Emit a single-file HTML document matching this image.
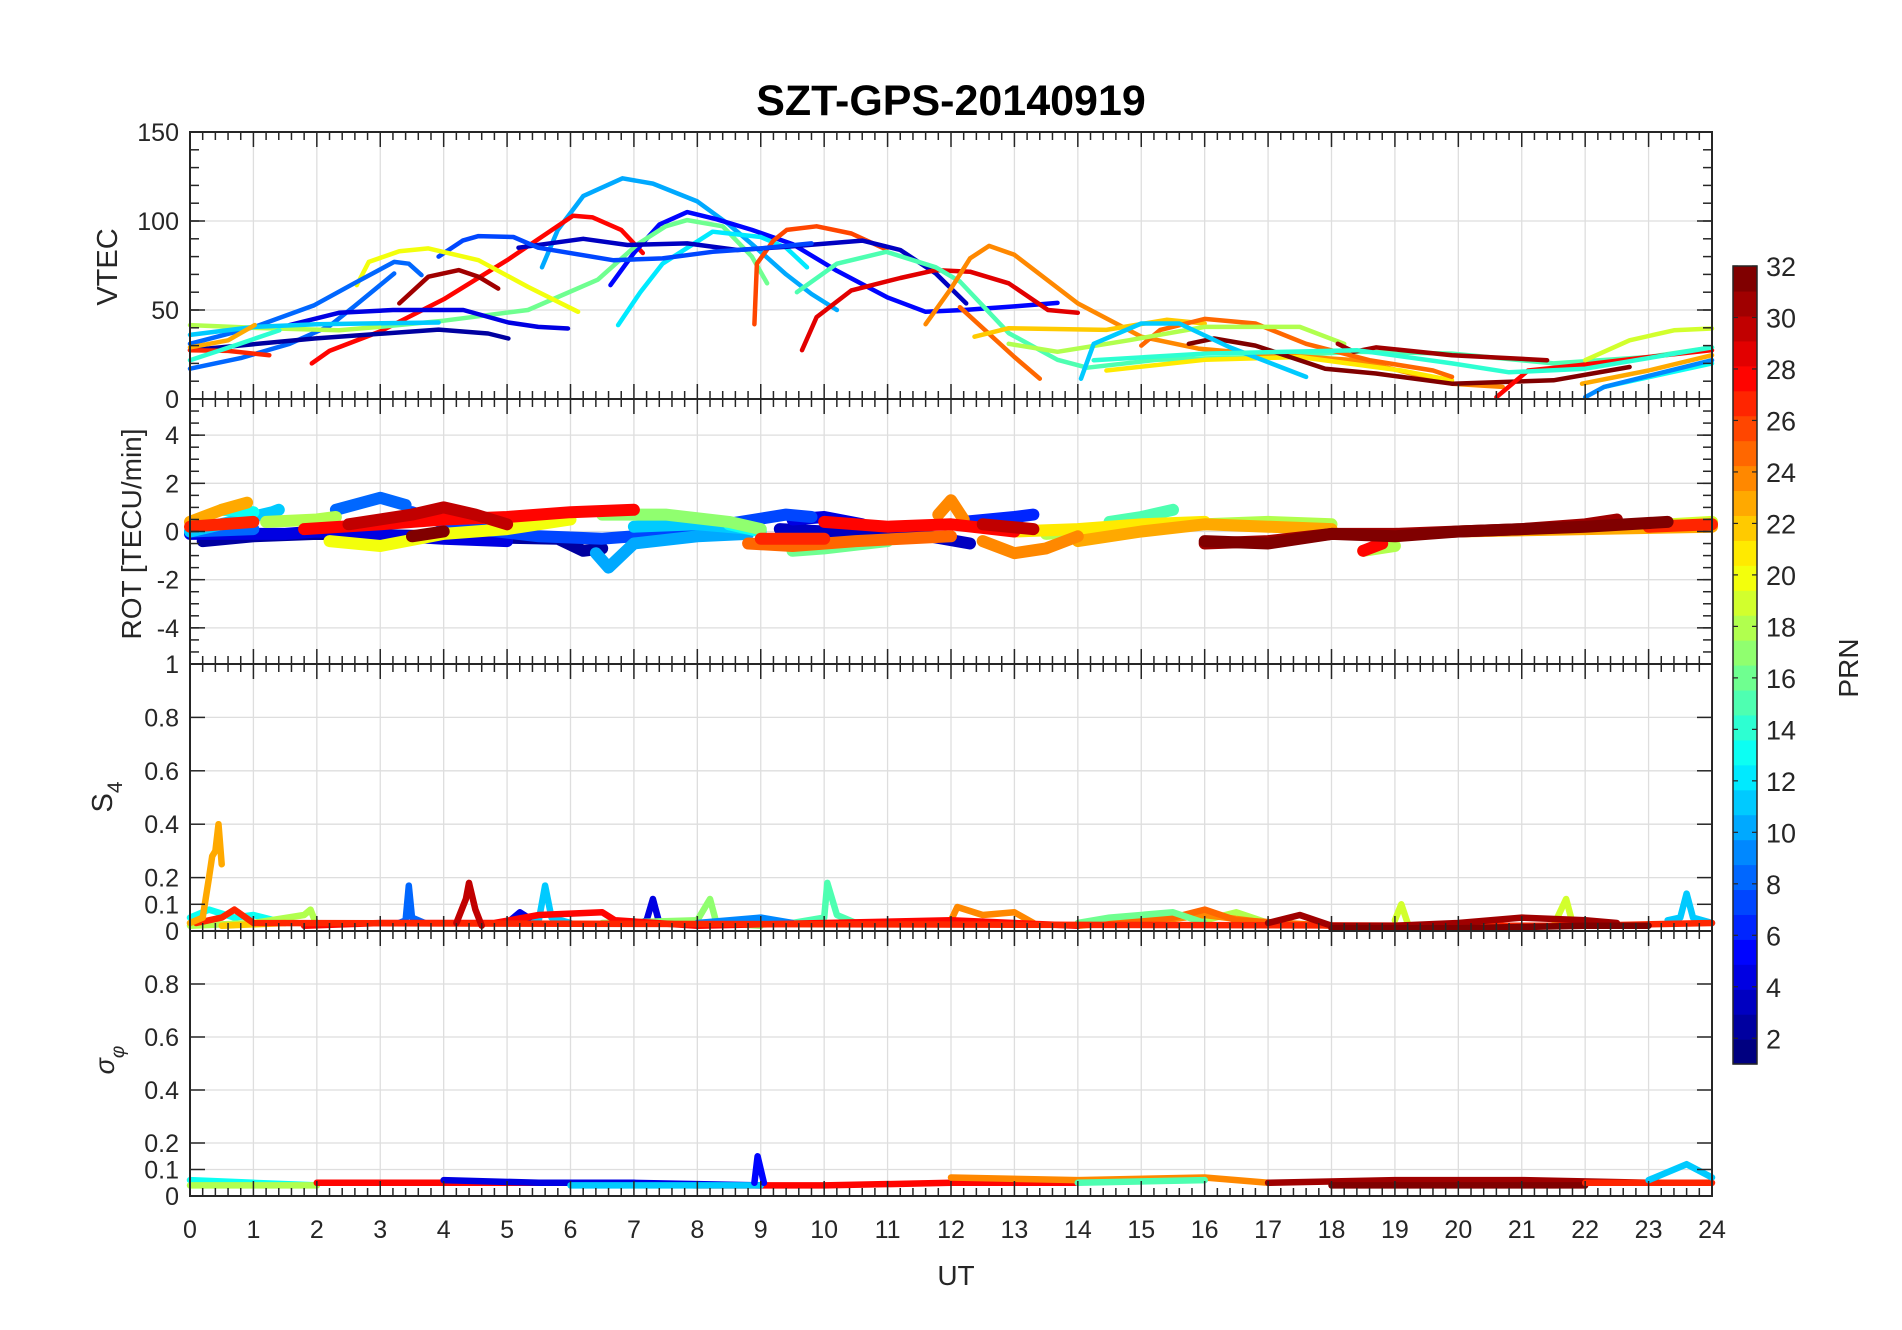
<!DOCTYPE html>
<html><head><meta charset="utf-8"><title>SZT-GPS-20140919</title>
<style>html,body{margin:0;padding:0;background:#fff;}svg{display:block;font-family:"Liberation Sans",Arial,sans-serif;}</style>
</head><body>
<svg id="chart" width="1902" height="1330" viewBox="0 0 1902 1330" xmlns="http://www.w3.org/2000/svg">
<rect x="0" y="0" width="1902" height="1330" fill="#fff"/>
<text x="951" y="115" text-anchor="middle" font-size="43" font-weight="bold" fill="#000">SZT-GPS-20140919</text>
<g id="grid"></g>
<g id="marks"></g>
<g id="axes"></g>
<text x="956" y="1285" text-anchor="middle" font-size="28" fill="#262626">UT</text>
<text transform="translate(117,267) rotate(-90)" text-anchor="middle" font-size="29" fill="#262626">VTEC</text>
<text transform="translate(141,534) rotate(-90)" text-anchor="middle" font-size="28" fill="#262626">ROT [TECU/min]</text>
<text transform="translate(112,797) rotate(-90)" text-anchor="middle" font-size="29" fill="#262626">S<tspan font-size="21" dy="10">4</tspan></text>
<text transform="translate(114,1060) rotate(-90)" text-anchor="middle" font-size="27" fill="#262626" font-style="italic">σ<tspan font-size="19" dy="10">φ</tspan></text>
<g id="colorbar"></g>
<text transform="translate(1858,668) rotate(-90)" text-anchor="middle" font-size="28" fill="#262626">PRN</text>
</svg>
<script>
// ---------- data ----------
const xTicks = [0,1,2,3,4,5,6,7,8,9,10,11,12,13,14,15,16,17,18,19,20,21,22,23,24];
const vtecTicks = [0,50,100,150];
const rotTicks = [-4,-2,0,2,4];
const s4Ticks = [0,0.1,0.2,0.4,0.6,0.8,1];
const sigTicks = [0,0.1,0.2,0.4,0.6,0.8];
const cbTicks = [2,4,6,8,10,12,14,16,18,20,22,24,26,28,30,32];

const vtecPRN = [10,28,5,16,12,26,3,7,20,8,8,31,2,4,27,18,29,29,15,24,25,22,21,25,18,32,31,28,19,23,13,9,11,14,11,23,14];
const vtecTracks = [
 [5.55,74,5.8,95,6.2,114,6.82,124,7.3,121,8.0,111,8.5,98,8.86,87,9.4,70,9.8,59,10.2,50],
 [1.92,20,2.2,27,3,38,4,56,5,78,6.04,103,6.35,102,6.8,95,7.14,82],
 [6.63,64,7.0,82,7.4,98,7.84,105,8.3,101,8.86,95,9.5,87,10.2,72,11,57,11.6,49,12.2,50,13,52,13.68,54],
 [2.98,40.5,4,44,5.33,50,6.43,67,7.06,87,7.5,97,7.84,100.5,8.4,97,8.86,80,9.1,65],
 [6.75,41.5,7.1,60,7.45,76,8.24,94,9.0,91,9.4,85,9.73,74],
 [8.9,42,8.94,76,9.2,89,9.41,95,9.88,97,10.43,93,10.98,84],
 [5.18,85,6.2,90,6.9,86.5,7.84,87.4,8.63,83.7,9.41,85.5,10.6,89,11.2,83.7,11.76,70.5,12.24,53.7],
 [3.92,80,4.3,89,4.55,91.5,5.1,91,5.49,85,6.67,78,7.45,79,8.24,82.7,9.0,84.6,9.8,87.4],
 [2.63,64,2.82,77,3.3,83,3.76,84.6,4.55,78,5.33,63,6.12,49],
 [0,17,0.8,23,1.57,31,2.2,41,2.59,52,3.22,70.5],
 [0,31,1.02,40.5,1.96,52.7,2.59,65,3.22,77,3.45,76,3.65,69.6],
 [3.3,53.7,3.76,68.7,4.24,72.4,4.55,68.7,4.86,62],
 [0,27.4,1.96,34,3.92,39,4.7,36.8,5.02,34],
 [1.57,41.5,2.35,48.4,3.2,50,4.31,50,5.02,43,5.49,40.5,5.96,39.6],
 [0,27.4,0.6,27,1.25,24.6],
 [0,41.5,1,40,2.35,38.6,2.98,40.5],
 [9.65,27.4,9.88,46,10.43,61,11.2,68,11.76,72.4,12.3,71.5],
 [12.3,71.5,12.91,65,13.53,50,14.0,48.4],
 [9.57,60,10.2,76,10.98,82.7,11.76,74,12.14,66,12.91,37,13.68,22,14.15,17.6,15.25,22,16.8,23.6,18.4,26.5,19.9,25.5,21.5,20,23.0,23.6,24,29],
 [11.6,42,12.0,62,12.3,79,12.6,86,13.0,81,14.0,53.7,15.0,35,15.9,28.3,16.8,25.5,18.4,21.8,19.9,8.6,20.7,6.8],
 [12.14,51.6,13.0,23.6,13.4,11.4],
 [12.37,35,12.91,39.8,14.45,38.8,15.4,44.5,16,42.4],
 [14.45,16,16,22,17.5,23.6,19.1,16,19.9,10.5],
 [15.0,30,15.3,38.8,16.0,45,16.8,42.4,17.6,31,18.6,21.8,19.6,16,19.9,12.4],
 [12.91,31,13.68,26.5,14.8,33,16,40.5,17.5,40.5,18.2,31],
 [15.75,31,16.15,34,16.8,30,17.9,17,18.7,14.3,19.9,8.6,21.5,10.5,22.7,18],
 [18.1,31,18.35,26.5,18.7,29,19.9,24.6,21.4,21.8],
 [20.6,1,21.1,16,21.9,19,23.0,23.6,24,27.4],
 [22.0,21.8,22.7,33,23.4,38.6,24,39.6],
 [21.95,8.6,23.0,16,24,24.6],
 [22.3,6.8,24,20],
 [22,1,22.3,6.8,24,21.8],
 [14.05,11.4,14.25,31,15.0,42.4,15.6,42.4,16.4,29,17.6,12.4],
 [14.25,21.8,16,25.5,18.4,27.4,19.9,20,20.8,15,22,17,24,29],
 [0,36,1.02,40.5,2,42,3.92,43],
 [0,29,0.6,33,1.02,41.5],
 [0,21.8,0.7,30,1.41,38.6]
];

const rotPRN = [2,3,4,4,6,7,8,8,10,11,11,13,13,15,16,17,18,18,18,19,20,21,23,23,23,24,24,25,27,27,27,28,28,28,30,30,31,32,32];
const rotTracks = [
 [0.2,-0.4,1,-0.2,2,-0.1,5.8,-0.3,6.2,-0.8,6.5,-0.7],
 [9.3,0.1,10,0.0,11,0.1,12.3,-0.5],
 [0,-0.1,1.5,-0.1,2,0,4,-0.3,5,-0.4],
 [9.5,0.5,10,0.6,10.6,0.3],
 [12.2,0.4,13,0.6,13.3,0.7],
 [3.5,0.8,4.2,0.2,5.5,-0.2,6.5,-0.3,7.5,-0.1,9.4,0.7,9.8,0.6],
 [2.3,0.9,3.0,1.4,3.4,1.1],
 [0,0.0,1,0.1],
 [6.4,-0.9,6.6,-1.5,7.0,-0.5,8,-0.2,8.8,-0.1],
 [0,0,1.3,0.8,1.4,0.9],
 [7,0.2,8,0.3,8.9,0.1],
 [0.5,0.9,1,0.8],
 [8.5,0.3,9,0.0],
 [14.5,0.4,15,0.6,15.5,0.9],
 [9.5,-0.8,10,-0.7,11,-0.4],
 [6.5,0.7,7.5,0.7,8.5,0.4,9,0.1],
 [1.2,0.4,2,0.5,2.3,0.6],
 [13.5,-0.1,15,0.2,17,0.4,18,0.3],
 [18.5,-0.8,19,-0.6],
 [22,0.1,24,0.4],
 [2.2,-0.4,3,-0.6,4,-0.1,5,0.1,6,0.5],
 [13,0.0,14,0.1,15,0.3,16,0.4],
 [0,0.4,0.5,0.9,0.9,1.2],
 [14,-0.4,15,0,16,0.3,17,0.2,18,0.1],
 [20,0,24,0.2],
 [11.8,0.7,12,1.3,12.2,0.5],
 [12.5,-0.4,13,-0.9,13.5,-0.7,14,-0.2],
 [8.8,-0.5,9.5,-0.6,10.5,-0.4,12,-0.2],
 [0,0.2,0.5,0.3,1,0.4],
 [9,-0.3,10,-0.3],
 [23,0.2,24,0.3],
 [1.8,0.1,3,0.3,4,0.5,5,0.6,6,0.8,7,0.9],
 [10,0.4,11,0.2,12,0.3,13,0],
 [18.5,-0.8,18.8,-0.5],
 [2.5,0.3,3.5,0.7,4,1.0,4.5,0.7,5,0.3],
 [12.5,0.3,13.3,0.1],
 [16,-0.5,17,-0.4,18,-0.1,19,-0.1,20,0,21,0.1,22,0.3,22.5,0.5],
 [16,-0.4,17,-0.5,18,-0.1,19,-0.2,20,0.0,22,0.2,23.3,0.4],
 [3.5,-0.2,4,0.0]
];

const s4PRN = [13,18,18,8,4,4,11,11,17,15,24,24,25,16,22,9,19,19,28,27,31,32,23,30];
const s4Tracks = [
 [0,0.05,0.3,0.08,0.7,0.05,1,0.06,1.5,0.03],
 [0,0.02,1,0.03,1.8,0.06,1.9,0.08,2,0.02],
 [16,0.04,16.5,0.07,17,0.03],
 [3.3,0.03,3.4,0.04,3.45,0.17,3.5,0.05,3.7,0.03],
 [5.0,0.03,5.2,0.07,5.4,0.04],
 [7.1,0.03,7.2,0.04,7.3,0.12,7.4,0.03],
 [5.4,0.03,5.5,0.04,5.6,0.17,5.7,0.05,6,0.03],
 [23.3,0.04,23.5,0.05,23.6,0.14,23.7,0.05,24,0.03],
 [6.5,0.03,8,0.04,8.2,0.12,8.3,0.03,9,0.02],
 [9.5,0.03,10,0.05,10.05,0.18,10.2,0.06,10.5,0.03],
 [12,0.04,12.1,0.09,12.5,0.06,13,0.07,13.3,0.03],
 [15,0.03,16,0.06,17,0.03],
 [14,0.02,15.5,0.05,16,0.08,16.5,0.04,18,0.02],
 [14,0.03,14.5,0.05,15.5,0.07,16,0.03],
 [0.5,0.02,1.5,0.03],
 [8,0.03,9,0.05,9.5,0.03],
 [21.5,0.02,21.7,0.12,21.8,0.03],
 [19,0.04,19.1,0.1,19.2,0.03],
 [1.8,0.02,3,0.03,4.8,0.03,5.5,0.06,6.5,0.07,6.7,0.04,8,0.02,10,0.03,12,0.04,14,0.02],
 [0.1,0.03,0.5,0.05,0.7,0.08,1,0.03,20,0.02,22,0.02,24,0.03],
 [17,0.03,17.5,0.06,18,0.02,19,0.02,20,0.03,21,0.05,22,0.04,22.5,0.03],
 [18,0.01,20,0.01,22,0.02,23,0.02],
 [0,0.03,0.2,0.05,0.3,0.2,0.35,0.28,0.4,0.3,0.45,0.4,0.5,0.25],
 [4.2,0.03,4.35,0.12,4.4,0.18,4.5,0.08,4.6,0.02]
];

const sigPRN = [13,18,28,4,11,5,24,31,32,27,11,15];
const sigTracks = [
 [0,0.06,1,0.05,2,0.04],
 [0,0.04,2,0.04],
 [2,0.05,4,0.05,6,0.05,8,0.04,10,0.04,12,0.05,14,0.05],
 [4,0.06,5.5,0.05,7,0.05,9,0.04],
 [6,0.04,8,0.04,9,0.04],
 [8.9,0.05,8.95,0.15,9.05,0.05],
 [12,0.07,14,0.06,16,0.07,17,0.05],
 [17,0.05,19,0.06,21,0.06,23,0.05],
 [18,0.04,20,0.04,22,0.04],
 [22,0.05,24,0.05],
 [23,0.06,23.6,0.12,24,0.07],
 [14,0.05,16,0.06]
];

// ---------- layout ----------
const NS = 'http://www.w3.org/2000/svg';
const X0 = 190, X1 = 1712;
const panels = [
 {name:'vtec', top:132, bot:399, min:0, max:150, ticks:vtecTicks, minor:10, prn:vtecPRN, tracks:vtecTracks, sw:4.5},
 {name:'rot', top:399, bot:664, min:-5.5, max:5.5, ticks:rotTicks, minor:0.5, prn:rotPRN, tracks:rotTracks, sw:12},
 {name:'s4', top:664, bot:931, min:0, max:1, ticks:s4Ticks, minor:0, prn:s4PRN, tracks:s4Tracks, sw:6.5},
 {name:'sigma', top:931, bot:1196, min:0, max:1, ticks:sigTicks, minor:0, prn:sigPRN, tracks:sigTracks, sw:6.5}
];
function xs(t){return X0 + (t/24)*(X1-X0);}
function ys(p,v){return p.bot - (v-p.min)/(p.max-p.min)*(p.bot-p.top);}
function jet(x){
  const c=v=>Math.max(0,Math.min(1,v));
  const r=c(1.5-Math.abs(4*x-3)), g=c(1.5-Math.abs(4*x-2)), b=c(1.5-Math.abs(4*x-1));
  return 'rgb('+Math.round(r*255)+','+Math.round(g*255)+','+Math.round(b*255)+')';
}
function prnColor(p){return jet((p-1)/31);}
function mk(tag, attrs, parent){const e=document.createElementNS(NS,tag);for(const k in attrs)e.setAttribute(k,attrs[k]);parent.appendChild(e);return e;}

const grid=document.getElementById('grid'), marks=document.getElementById('marks'), axes=document.getElementById('axes');

panels.forEach(p=>{
  xTicks.forEach(t=>{
    if(t===0||t===24) return;
    const l=mk('line',{x1:xs(t),x2:xs(t),y1:p.top,y2:p.bot,stroke:'#dedede','stroke-width':1.3},grid);
    
    
  });
  p.ticks.forEach(v=>{
    const y=ys(p,v);
    if(y<=p.top+1||y>=p.bot-1) return;
    const l=mk('line',{x1:X0,x2:X1,y1:y,y2:y,stroke:'#dedede','stroke-width':1.3},grid);
    
    
  });
  p.tracks.forEach((tr,i)=>{
    let pts=[];
    for(let k=0;k<tr.length;k+=2) pts.push(xs(tr[k]).toFixed(1)+','+ys(p,tr[k+1]).toFixed(1));
    const pl=mk('polyline',{points:pts.join(' '),fill:'none',stroke:prnColor(p.prn[i]),'stroke-width':p.sw,'stroke-linejoin':'round','stroke-linecap':'round'},marks);
    
    
  });
  const fr=mk('rect',{x:X0,y:p.top,width:X1-X0,height:p.bot-p.top,fill:'none',stroke:'#262626','stroke-width':2},axes);
  
  
  for(let t=0;t<=24.001;t+=0.2){
    const major=Math.abs(t-Math.round(t))<0.01;
    const len=major?15:8;
    mk('line',{x1:xs(t),x2:xs(t),y1:p.top,y2:p.top+len,stroke:'#262626','stroke-width':1.5},axes);
    mk('line',{x1:xs(t),x2:xs(t),y1:p.bot,y2:p.bot-len,stroke:'#262626','stroke-width':1.5},axes);
  }
  if(p.minor>0){
    for(let v=p.min;v<=p.max+1e-6;v+=p.minor){
      const y=ys(p,v);
      mk('line',{x1:X0,x2:X0+9,y1:y,y2:y,stroke:'#262626','stroke-width':1.5},axes);
      mk('line',{x1:X1,x2:X1-9,y1:y,y2:y,stroke:'#262626','stroke-width':1.5},axes);
    }
  }
  p.ticks.forEach(v=>{
    const y=ys(p,v);
    mk('line',{x1:X0,x2:X0+15,y1:y,y2:y,stroke:'#262626','stroke-width':1.5},axes);
    mk('line',{x1:X1,x2:X1-15,y1:y,y2:y,stroke:'#262626','stroke-width':1.5},axes);
    const tx=mk('text',{x:179,y:y+9,'text-anchor':'end','font-size':25,fill:'#262626'},axes);
    tx.textContent=String(v);
    
    
  });
});
xTicks.forEach(t=>{
  const tx=mk('text',{x:xs(t),y:1238,'text-anchor':'middle','font-size':25,fill:'#262626'},axes);
  tx.textContent=String(t);
  
  
});
const cb=document.getElementById('colorbar');
const CBX=1733, CBW=24, CBT=266, CBB=1064;
const bandH=(CBB-CBT)/32;
for(let i=0;i<32;i++){
  const r=mk('rect',{x:CBX,y:(CBB-(i+1)*bandH).toFixed(2),width:CBW,height:(bandH+0.6).toFixed(2),fill:jet(i/31)},cb);
  
  
}
mk('rect',{x:CBX,y:CBT,width:CBW,height:CBB-CBT,fill:'none',stroke:'#262626','stroke-width':1.5},cb);
cbTicks.forEach(v=>{
  const y=CBB-(v-1)/31*(CBB-CBT);
  mk('line',{x1:CBX,x2:CBX+5,y1:y,y2:y,stroke:'#262626','stroke-width':1.2},cb);
  mk('line',{x1:CBX+CBW,x2:CBX+CBW-5,y1:y,y2:y,stroke:'#262626','stroke-width':1.2},cb);
  const tx=mk('text',{x:1766,y:y+10,'font-size':27,fill:'#262626'},cb);
  tx.textContent=String(v);
  
  
});
</script>
</body></html>
